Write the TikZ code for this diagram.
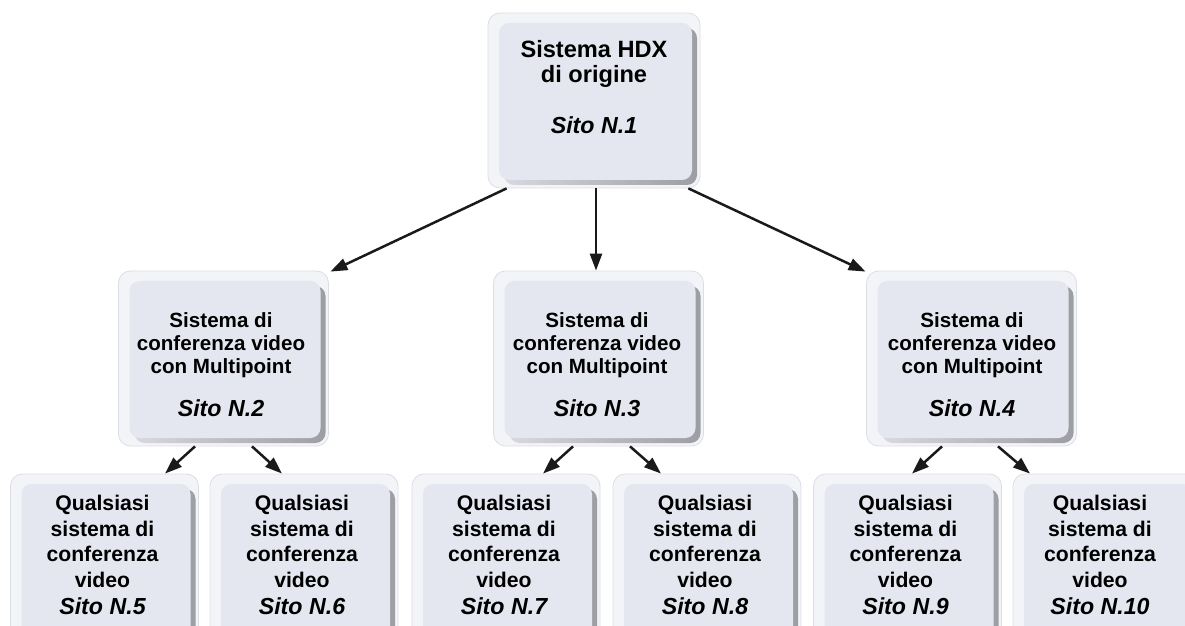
\documentclass[tikz,border=0pt]{standalone}
\usepackage{fontspec}
\setmainfont{Liberation Sans}
\usetikzlibrary{arrows.meta}
\definecolor{outerc}{HTML}{F3F4F8}
\definecolor{edgec}{HTML}{DCDEE6}
\definecolor{panelc}{HTML}{E5E7F0}
\definecolor{shadl}{HTML}{DDDEE5}
\definecolor{shadd}{HTML}{9C9DA3}
\definecolor{arrc}{HTML}{1A1A1A}
\newcommand\sitolabel[1]{{\fontsize{11.6}{12.5}\selectfont\itshape #1}}
\tikzset{
  panel/.style={rectangle, rounded corners=6pt, fill=outerc, draw=edgec, line width=0.4pt, inner sep=0pt,
    path picture={
      \fill[left color=shadl, right color=shadd, rounded corners=5pt]
        ([shift={(8pt,1.5pt)}]path picture bounding box.south west) rectangle
        ([shift={(-1.5pt,-7.5pt)}]path picture bounding box.north east);
      \fill[panelc, rounded corners=5pt]
        ([shift={(5.5pt,4pt)}]path picture bounding box.south west) rectangle
        ([shift={(-4pt,-5pt)}]path picture bounding box.north east);
    }},
  topbox/.style={panel, minimum width=106pt, minimum height=87.5pt},
  midbox/.style={panel, minimum width=105pt, minimum height=87.5pt},
  botbox/.style={panel, minimum width=94pt, minimum height=87.5pt},
  toptext/.style={anchor=north, align=center, inner sep=0pt, font=\fontsize{11.8}{12.5}\selectfont\bfseries},
  midtext/.style={anchor=north, align=center, inner sep=0pt, font=\fontsize{10.3}{11.5}\selectfont\bfseries},
  bottext/.style={anchor=north, align=center, inner sep=0pt, font=\fontsize{10.6}{12.8}\selectfont\bfseries},
  arr/.style={draw=arrc, line width=1.25pt, -{Triangle[length=8.5pt,width=6pt]}, fill=arrc}
}
\begin{document}
\begin{tikzpicture}[x=0.5pt,y=-0.5pt]
\useasboundingbox (0,0) rectangle (1185,626);
\clip (0,0) rectangle (1185,626);
% top
\node[topbox] (n1) at (594,100.5) {};
\node[toptext] (t1) at (594,40) {Sistema HDX\\di origine\\[13pt]\sitolabel{Sito N.1}};
% middle
\node[midbox] (n2) at (223.5,358.5) {};
\node[midbox] (n3) at (598.5,358.5) {};
\node[midbox] (n4) at (971.5,358.5) {};
\node[midtext] (t2) at (221,312) {Sistema di\\conferenza video\\con Multipoint\\[10pt]\sitolabel{Sito N.2}};
\node[midtext] (t3) at (597,312) {Sistema di\\conferenza video\\con Multipoint\\[10pt]\sitolabel{Sito N.3}};
\node[midtext] (t4) at (972,312) {Sistema di\\conferenza video\\con Multipoint\\[10pt]\sitolabel{Sito N.4}};
% bottom
\node[botbox] (n5) at (104.5,561.5) {};
\node[botbox] (n6) at (304,561.5) {};
\node[botbox] (n7) at (506,561.5) {};
\node[botbox] (n8) at (707,561.5) {};
\node[botbox] (n9) at (907.5,561.5) {};
\node[botbox] (n10) at (1107,561.5) {};
\node[bottext] (t5) at (102.5,495) {Qualsiasi\\sistema di\\conferenza\\video\\[0.5pt]\sitolabel{Sito N.5}};
\node[bottext] (t6) at (302,495) {Qualsiasi\\sistema di\\conferenza\\video\\[0.5pt]\sitolabel{Sito N.6}};
\node[bottext] (t7) at (504,495) {Qualsiasi\\sistema di\\conferenza\\video\\[0.5pt]\sitolabel{Sito N.7}};
\node[bottext] (t8) at (705,495) {Qualsiasi\\sistema di\\conferenza\\video\\[0.5pt]\sitolabel{Sito N.8}};
\node[bottext] (t9) at (905.5,495) {Qualsiasi\\sistema di\\conferenza\\video\\[0.5pt]\sitolabel{Sito N.9}};
\node[bottext] (t10) at (1100,495) {Qualsiasi\\sistema di\\conferenza\\video\\[0.5pt]\sitolabel{Sito N.10}};
% arrows top
\draw[arr] ([shift={(19,0)}]n1.south west) -- ([shift={(1.5,1)}]n2.north east);
\draw[arr] ([shift={(2,0)}]n1.south) -- ([shift={(2,0)}]n1.south |- n3.north);
\draw[arr] ([shift={(-12,0)}]n1.south east) -- ([shift={(-0.5,1)}]n4.north west);
% arrows bottom
\draw[arr] ([shift={(-28.5,0)}]n2.south) -- ([shift={(60.5,0)}]n5.north);
\draw[arr] ([shift={(28.5,0)}]n2.south) -- ([shift={(-22,0)}]n6.north);
\draw[arr] ([shift={(-25.5,0)}]n3.south) -- ([shift={(37,0)}]n7.north);
\draw[arr] ([shift={(31.5,0)}]n3.south) -- ([shift={(-46,0)}]n8.north);
\draw[arr] ([shift={(-29.5,0)}]n4.south) -- ([shift={(4.5,0)}]n9.north);
\draw[arr] ([shift={(26.5,0)}]n4.south) -- ([shift={(-77,0)}]n10.north);
\end{tikzpicture}
\end{document}
